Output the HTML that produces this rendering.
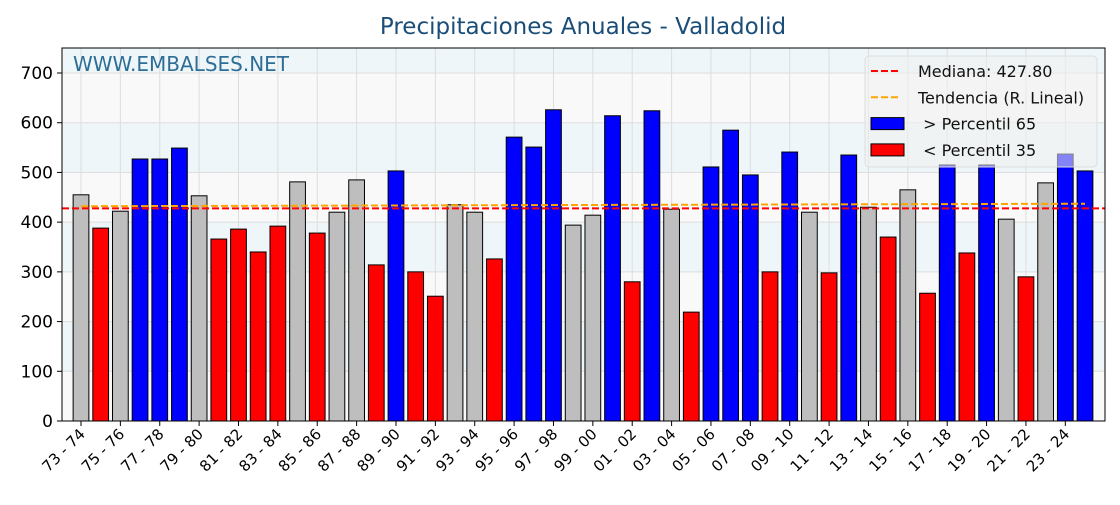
<!DOCTYPE html>
<html><head><meta charset="utf-8"><style>
body{margin:0;background:#fff;}
svg text{font-family:"DejaVu Sans","Liberation Sans",sans-serif;white-space:pre;}
</style></head><body>
<svg id="chart" width="1120" height="500"></svg>
<script>
const categories=[];
for(let y=73;y<125;y++){const a=y%100,b=(y+1)%100;categories.push(String(a).padStart(2,'0')+' - '+String(b).padStart(2,'0'));}
const values=[455,388,422,527,527,549,453,366,386,340,392,481,378,420,485,314,503,300,251,435,420,326,571,551,626,394,414,614,280,624,426,219,511,585,495,300,541,420,298,535,430,370,465,257,515,338,515,406,290,479,537,503];
const median=[427.8];
const trend=[432,437];
const yTicks=[0,100,200,300,400,500,600,700];
const NS='http://www.w3.org/2000/svg';
const svg=document.getElementById('chart');
const L=62,R=1105,T=48,B=421;
const n=values.length;
const step=(1085-81)/(n-1);
const xC=i=>81+step*i;
const yS=v=>B-v*(B-73)/700;
function el(tag,attrs,parent){const e=document.createElementNS(NS,tag);for(const k in attrs)e.setAttribute(k,attrs[k]);(parent||svg).appendChild(e);return e;}
const bands=[[700,760,'#eef6f9'],[600,700,'#f9f9f9'],[500,600,'#eef6f9'],[400,500,'#f9f9f9'],[300,400,'#eef6f9'],[200,300,'#f9f9f9'],[100,200,'#eef6f9'],[0,100,'#f9f9f9']];
bands.forEach(b=>{const y1=Math.max(T,yS(b[1]));const r=el('rect',{x:L,y:y1,width:R-L,height:yS(b[0])-y1,fill:b[2]});

});
yTicks.forEach(t=>{const g=el('line',{x1:L,x2:R,y1:yS(t),y2:yS(t),stroke:'#dddddd','stroke-width':1});

});
categories.forEach((c,i)=>{if(i%2)return;const g=el('line',{x1:xC(i),x2:xC(i),y1:T,y2:B,stroke:'#dddddd','stroke-width':1});

});
const wm=el('text',{x:73,y:71,'font-size':20,fill:'#2e6e96'});wm.textContent='WWW.EMBALSES.NET';


const sorted=[...values].sort((a,b)=>a-b);
const pct=p=>{const r=p*(sorted.length-1);const lo=Math.floor(r);return sorted[lo]+(sorted[Math.min(lo+1,sorted.length-1)]-sorted[lo])*(r-lo);};
const p65=pct(0.65),p35=pct(0.35);
const bw=step*0.8;
values.forEach((v,i)=>{const col=v>p65?'#0000ff':(v<p35?'#ff0000':'#bebebe');
const r=el('rect',{x:xC(i)-bw/2,y:yS(v),width:bw,height:B-yS(v),fill:col,stroke:'#000','stroke-width':1});

});
const tl=el('line',{x1:xC(0),x2:xC(n-1),y1:yS(trend[0]),y2:yS(trend[1]),stroke:'#ffa500','stroke-width':2,'stroke-dasharray':'7,3'});


const ml=el('line',{x1:L,x2:R,y1:yS(median[0]),y2:yS(median[0]),stroke:'#ff0000','stroke-width':2,'stroke-dasharray':'7,3'});


const fr=el('rect',{x:L,y:T,width:R-L,height:B-T,fill:'none',stroke:'#000','stroke-width':1});


yTicks.forEach(t=>{el('line',{x1:L-5,x2:L,y1:yS(t),y2:yS(t),stroke:'#000'});
const tx=el('text',{x:L-9,y:yS(t)+6,'font-size':17,'text-anchor':'end',fill:'#000'});tx.textContent=t;

});
categories.forEach((c,i)=>{if(i%2)return;const x=xC(i);el('line',{x1:x,x2:x,y1:B,y2:B+5,stroke:'#000'});
const tx=el('text',{x:x+5,y:B+14,'font-size':15,'text-anchor':'end',fill:'#000',transform:`rotate(-45 ${x+5} ${B+14})`});tx.textContent=c;

});
const ti=el('text',{x:583,y:34,'font-size':23,'text-anchor':'middle',fill:'#1a4e78'});ti.textContent='Precipitaciones Anuales - Valladolid';


const lg=el('g',{});


el('rect',{x:865,y:56,width:232,height:111,rx:4,fill:'#f0f0f0','fill-opacity':0.55,stroke:'#dddddd'},lg);
const items=[['line','#ff0000','Mediana: 427.80'],['line','#ffa500','Tendencia (R. Lineal)'],['box','#0000ff',' > Percentil 65'],['box','#ff0000',' < Percentil 35']];
items.forEach((it,k)=>{const y=71+k*26.3;
if(it[0]==='line')el('line',{x1:871,x2:901,y1:y,y2:y,stroke:it[1],'stroke-width':2,'stroke-dasharray':'7,3'},lg);
else el('rect',{x:871,y:y-6,width:33,height:12,fill:it[1],stroke:'#000'},lg);
const tx=el('text',{x:918,y:y+6,'font-size':16,fill:'#111'},lg);tx.textContent=it[2];

});
</script>
</body></html>
